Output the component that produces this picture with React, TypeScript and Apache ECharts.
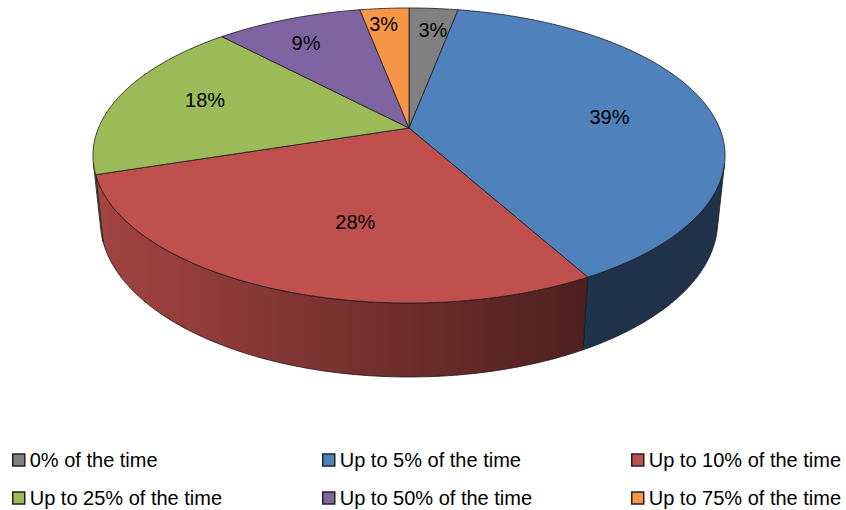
import React, { useEffect, useRef } from "react";
import * as echarts from "echarts";

// ---- data ----
const categories = [
  "0% of the time",
  "Up to 5% of the time",
  "Up to 10% of the time",
  "Up to 25% of the time",
  "Up to 50% of the time",
  "Up to 75% of the time",
];
const shares = [3, 39, 28, 18, 9, 3];
const sliceLabels = ["3%", "39%", "28%", "18%", "9%", "3%"];

// ---- styles ----
const colors = ["#808080", "#4f81bd", "#c0504d", "#9bbb59", "#8064a2", "#f79646"];
const labelRadius = [0.79, 0.66, 0.61, 0.71, 0.77, 0.85];
const labelShift = [1, 2, -7, 2, -2, -1];
const FONT = '"Liberation Sans", Arial, sans-serif';

// ---- 3D projection layout ----
const CX = 409;
const CY = 128;
const F = 1480; // focal / camera distance (px)
const R = 0.2098; // radius / camera distance
const H = 0.0501; // thickness / camera distance
const SIN_PHI = 0.4586;
const COS_PHI = 0.8886;

function project(thetaDeg: number, rf: number, z: number): number[] {
  const t = (thetaDeg * Math.PI) / 180;
  const X = R * rf * Math.sin(t);
  const Y = R * rf * Math.cos(t);
  const depth = 1 + Y * COS_PHI - z * SIN_PHI;
  const up = Y * SIN_PHI + z * COS_PHI;
  return [CX + (F * X) / depth, CY - (F * up) / depth];
}

function shade(hex: string, f: number): string {
  const n = parseInt(hex.slice(1), 16);
  const r = Math.round(((n >> 16) & 255) * f);
  const g = Math.round(((n >> 8) & 255) * f);
  const b = Math.round((n & 255) * f);
  return `rgb(${r},${g},${b})`;
}

const total = shares.reduce((a, b) => a + b, 0);
const starts: number[] = [];
{
  let acc = 0;
  for (const v of shares) {
    starts.push((360 * acc) / total);
    acc += v;
  }
}

const wallMin = (Math.acos(-R / COS_PHI) * 180) / Math.PI;
const wallMax = 360 - wallMin;

function arc(a: number, b: number, rf: number, z: number): number[][] {
  const pts: number[][] = [];
  const n = Math.max(2, Math.ceil((b - a) / 1));
  for (let j = 0; j <= n; j++) pts.push(project(a + ((b - a) * j) / n, rf, z));
  return pts;
}

function buildSlice(i: number) {
  const a = starts[i];
  const b = a + (360 * shares[i]) / total;
  const children: any[] = [];
  const wa = Math.max(a, wallMin);
  const wb = Math.min(b, wallMax);
  if (wb > wa) {
    const topArc = arc(wa, wb, 1, 0);
    const botArc = arc(wa, wb, 1, -H).reverse();
    children.push({
      type: "polygon",
      shape: { points: topArc.concat(botArc) },
      style: {
        fill: new echarts.graphic.LinearGradient(
          95,
          0,
          600,
          0,
          [
            { offset: 0, color: shade(colors[i], 0.85) },
            { offset: 1, color: shade(colors[i], 0.39) },
          ],
          true
        ),
        stroke: "#1a1a1a",
        lineWidth: 0.8,
      },
      z2: 1,
    });
  }
  const top = [project(0, 0, 0)].concat(arc(a, b, 1, 0));
  children.push({
    type: "polygon",
    shape: { points: top },
    style: { fill: colors[i], stroke: "#1a1a1a", lineWidth: 0.8 },
    z2: 10,
  });
  const mid = (a + b) / 2 + labelShift[i];
  const lp = project(mid, labelRadius[i], 0);
  children.push({
    type: "text",
    x: lp[0],
    y: lp[1],
    style: {
      text: sliceLabels[i],
      fill: "#000",
      fontSize: 20,
      fontFamily: FONT,
      align: "center",
      verticalAlign: "middle",
    },
    z2: 100,
  });
  return { type: "group", children };
}

const legendLeft = [12, 322, 631];
const legendTop = [450, 488];

export default function App() {
  const ref = useRef<HTMLDivElement>(null);
  useEffect(() => {
    document.body.style.margin = "0";
    if (!ref.current) return;
    const chart = echarts.init(ref.current, undefined, { renderer: "svg" });
    chart.setOption({
      animation: false,
      backgroundColor: "#ffffff",
      legend: categories.map((name, i) => ({
        data: [name],
        left: legendLeft[i % 3],
        top: legendTop[Math.floor(i / 3)],
        padding: 0,
        icon: "rect",
        itemWidth: 12,
        itemHeight: 12,
        selectedMode: false,
        itemStyle: { borderColor: "#222", borderWidth: 1.5 },
        textStyle: { fontSize: 20, color: "#000", fontFamily: FONT },
      })),
      series: categories.map((name, i) => ({
        type: "custom",
        name,
        coordinateSystem: "none",
        silent: true,
        itemStyle: { color: colors[i] },
        data: [shares[i]],
        renderItem: () => buildSlice(i),
      })),
    });
    return () => chart.dispose();
  }, []);
  return <div ref={ref} style={{ width: 846, height: 510 }} />;
}
